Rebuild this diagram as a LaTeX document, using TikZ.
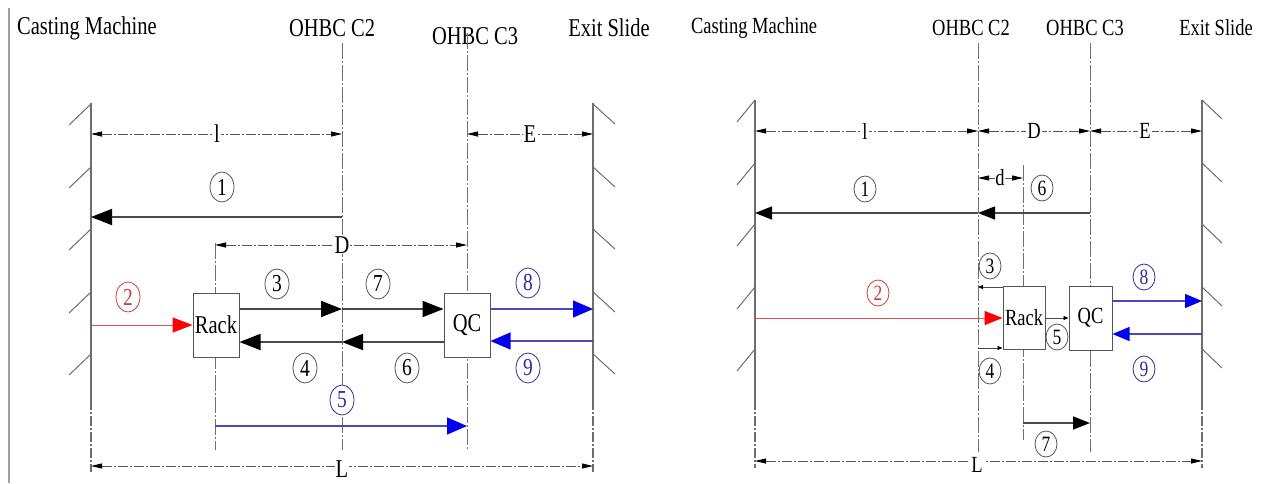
\documentclass[tikz,border=0pt]{standalone}
\usepackage{fontspec}
\setmainfont{Liberation Serif}
\usepackage{graphicx}
\usetikzlibrary{arrows.meta,shapes.geometric}
\definecolor{wallc}{HTML}{6E6E6E}
\definecolor{linec}{HTML}{707070}
\definecolor{dimc}{HTML}{555555}
\definecolor{arrc}{HTML}{4A4A4A}
\definecolor{redl}{HTML}{E05050}
\definecolor{redh}{HTML}{FF0000}
\definecolor{redt}{HTML}{C84040}
\definecolor{bluel}{HTML}{4848C0}
\definecolor{blueh}{HTML}{0000F0}
\definecolor{bluet}{HTML}{2E2E9A}
\definecolor{borderc}{HTML}{A0A0A0}
\newcommand{\tl}[1]{\scalebox{1}[1.25]{#1}}
\newcommand{\fsz}[1]{\fontsize{#1}{#1}\selectfont}
\tikzset{
  wall/.style={draw=wallc, line width=1.3pt},
  wallend/.style={draw=wallc, line width=1.1pt, dash pattern=on 10pt off 2pt on 2pt off 2pt},
  hatch/.style={draw=wallc, line width=1pt},
  cline/.style={draw=linec, line width=0.8pt, dash pattern=on 16pt off 2pt on 2pt off 2pt},
  dim/.style={draw=dimc, line width=0.8pt, dash pattern=on 10pt off 2pt on 2pt off 2pt,
    {Triangle[length=11pt,width=5pt,color=black]}-{Triangle[length=11pt,width=5pt,color=black]}},
  dimA/.style={fill=white, inner sep=1pt, font=\fsz{20.5}},
  dimB/.style={fill=white, inner sep=1pt, font=\fsz{18.5}},
  ttlA/.style={inner sep=0pt, font=\fsz{20.5}},
  ttlB/.style={inner sep=0pt, font=\fsz{18.5}},
  bigA/.style={draw=arrc, line width=1.8pt, -{Triangle[length=21pt,width=16pt,color=black]}},
  bigB/.style={draw=arrc, line width=1.5pt, -{Triangle[length=17pt,width=13pt,color=black]}},
  redA/.style={draw=redl, line width=1pt, -{Triangle[length=20pt,width=15pt,color=redh]}},
  blueA/.style={draw=bluel, line width=1.2pt, -{Triangle[length=20pt,width=17pt,color=blueh]}},
  blueB/.style={draw=bluel, line width=1.1pt, -{Triangle[length=17pt,width=14pt,color=blueh]}},
  smallB/.style={draw=arrc, line width=0.8pt, -{Triangle[length=5pt,width=4pt,color=black]}},
  boxA/.style={draw=dimc, line width=1pt, fill=white, minimum width=46pt, minimum height=64pt, inner sep=0pt, font=\fsz{20.5}},
  boxB/.style={draw=dimc, line width=1pt, fill=white, minimum width=42pt, minimum height=63pt, inner sep=0pt, font=\fsz{18.5}},
  numA/.style={ellipse, draw=dimc, line width=0.8pt, inner sep=0pt, minimum width=24pt, minimum height=30pt, font=\fsz{19.5}},
  numB/.style={ellipse, draw=dimc, line width=0.8pt, inner sep=0pt, minimum width=22pt, minimum height=26pt, font=\fsz{17.5}},
}
\begin{document}
\begin{tikzpicture}[x=1pt,y=-1pt]
\useasboundingbox (0,0) rectangle (1265,483);
\fill[white] (0,0) rectangle (1265,483);
% page border on the left
\draw[draw=borderc, line width=2.5pt] (9,8) -- (9,483);

%%%%%%%%%%%%%%%% LEFT PANEL %%%%%%%%%%%%%%%%
\node[ttlA, anchor=west] (tA1) at (17,28) {\tl{Casting Machine}};
\node[ttlA] (tA2) at (332,28) {\tl{OHBC C2}};
\node[ttlA] (tA3) at (475,36) {\tl{OHBC C3}};
\node[ttlA] (tA4) at (609,28) {\tl{Exit Slide}};

% walls
\coordinate (wLAt) at (91,103); \coordinate (wLAm) at (91,400); \coordinate (wLAb) at (91,472);
\coordinate (wRAt) at (593,103); \coordinate (wRAm) at (593,400); \coordinate (wRAb) at (593,472);
\draw[wall] (wLAt) -- (wLAm); \draw[wallend] (wLAm) -- (wLAb);
\draw[wall] (wRAt) -- (wRAm); \draw[wallend] (wRAm) -- (wRAb);
\foreach \y in {104,167,229,292,354} {
  \draw[hatch] (91,\y) -- ++(-22,21);
  \draw[hatch] (593,\y) -- ++(22,20);
}
% centre lines
\coordinate (c2At) at (342,43); \coordinate (c2Ab) at (342,450);
\coordinate (c3At) at (467,33); \coordinate (c3Ab) at (467,450);
\coordinate (rkAt) at (215,243); \coordinate (rkAb) at (215,450);
\draw[cline] (c2At) -- (c2Ab);
\draw[cline] (c3At) -- (c3Ab);
\draw[cline] (rkAt) -- (rkAb);

% dimensions
\coordinate (dlA1) at (91,134); \coordinate (dlA2) at (342,134);
\coordinate (deA1) at (467,134); \coordinate (deA2) at (593,134);
\coordinate (ddA1) at (215,245); \coordinate (ddA2) at (467,245);
\coordinate (dLA1) at (91,466); \coordinate (dLA2) at (593,466);
\draw[dim] (dlA1) -- (dlA2); \node[dimA] (lA) at (217,134) {\tl{l}};
\draw[dim] (deA1) -- (deA2); \node[dimA] (EA) at (530,134) {\tl{E}};
\draw[dim] (ddA1) -- (ddA2); \node[dimA] (DA) at (342,245) {\tl{D}};
\draw[dim] (dLA1) -- (dLA2); \node[dimA] (LA) at (342,469) {\tl{L}};

% boxes
\node[boxA] (rackA) at (216,325) {\tl{Rack}};
\node[boxA] (qcA) at (467,325) {\tl{QC}};

% arrows
\coordinate (a1s) at (342,217); \coordinate (a1e) at (91,217);
\draw[bigA] (a1s) -- (a1e);
\coordinate (a2s) at (91,325);
\draw[redA] (a2s) -- (rackA.west);
\coordinate (a3) at (342,309); \coordinate (a4) at (342,342);
\draw[bigA] (rackA.east |- a3) -- (a3);
\draw[bigA] (a3) -- (qcA.west |- a3);
\draw[bigA] (a4) -- (rackA.east |- a4);
\draw[bigA] (qcA.west |- a4) -- (a4);
\coordinate (a8) at (593,309); \coordinate (a9) at (593,341);
\draw[blueA] (qcA.east |- a8) -- (a8);
\draw[blueA] (a9) -- (qcA.east |- a9);
\coordinate (a5s) at (215,426); \coordinate (a5e) at (467,426);
\draw[blueA] (a5s) -- (a5e);

% numbers
\node[numA] (nA1) at (222,187) {\tl{1}};
\node[numA, draw=redt, text=redt] (nA2) at (128,297) {\tl{2}};
\node[numA] (nA3) at (277,284) {\tl{3}};
\node[numA] (nA4) at (305,368) {\tl{4}};
\node[numA, draw=bluet, text=bluet, fill=white] (nA5) at (342,400) {\tl{5}};
\node[numA] (nA6) at (407,368) {\tl{6}};
\node[numA] (nA7) at (378,284) {\tl{7}};
\node[numA, draw=bluet, text=bluet] (nA8) at (528,283) {\tl{8}};
\node[numA, draw=bluet, text=bluet] (nA9) at (528,368) {\tl{9}};

%%%%%%%%%%%%%%%% RIGHT PANEL %%%%%%%%%%%%%%%%
\node[ttlB] (tB1) at (754,28) {\tl{Casting Machine}};
\node[ttlB] (tB2) at (971,28) {\tl{OHBC C2}};
\node[ttlB] (tB3) at (1085,28) {\tl{OHBC C3}};
\node[ttlB] (tB4) at (1216,28) {\tl{Exit Slide}};

% walls
\coordinate (wLBt) at (755,100); \coordinate (wLBm) at (755,400); \coordinate (wLBb) at (755,468);
\coordinate (wRBt) at (1202,100); \coordinate (wRBm) at (1202,400); \coordinate (wRBb) at (1202,468);
\draw[wall] (wLBt) -- (wLBm); \draw[wallend] (wLBm) -- (wLBb);
\draw[wall] (wRBt) -- (wRBm); \draw[wallend] (wRBm) -- (wRBb);
\foreach \y in {100,163,224,287,349} {
  \draw[hatch] (755,\y) -- ++(-18,22);
  \draw[hatch] (1202,\y) -- ++(20,19);
}
% centre lines
\coordinate (c2Bt) at (978,43); \coordinate (c2Bb) at (978,452);
\coordinate (c3Bt) at (1090,43); \coordinate (c3Bb) at (1090,452);
\coordinate (dBt) at (1023,165); \coordinate (dBb) at (1023,440);
\draw[cline] (c2Bt) -- (c2Bb);
\draw[cline] (c3Bt) -- (c3Bb);
\draw[cline] (dBt) -- (dBb);

% dimensions
\coordinate (dlB1) at (755,131); \coordinate (dlB2) at (978,131);
\coordinate (dDB2) at (1090,131); \coordinate (dEB2) at (1202,131);
\coordinate (ddB1) at (978,178); \coordinate (ddB2) at (1023,178);
\coordinate (dLB1) at (755,461); \coordinate (dLB2) at (1202,461);
\draw[dim] (dlB1) -- (dlB2); \node[dimB] (lB) at (865,131) {\tl{l}};
\draw[dim] (dlB2) -- (dDB2); \node[dimB] (DB) at (1034,131) {\tl{D}};
\draw[dim] (dDB2) -- (dEB2); \node[dimB] (EB) at (1145,131) {\tl{E}};
\draw[dim] (ddB1) -- (ddB2); \node[dimB, inner sep=0.5pt] (dB) at (1000,178) {\tl{d}};
\draw[dim] (dLB1) -- (dLB2); \node[dimB] (LB) at (977,465) {\tl{L}};

% boxes
\node[boxB] (rackB) at (1024,317.5) {\tl{Rack}};
\node[boxB, minimum width=43pt, minimum height=64pt] (qcB) at (1090.5,318) {\tl{QC}};

% arrows
\coordinate (b1s) at (978,213); \coordinate (b1e) at (755,213); \coordinate (b6s) at (1090,213);
\draw[bigB] (b1s) -- (b1e);
\draw[bigB] (b6s) -- (b1s);
\coordinate (b2s) at (755,318);
\draw[redA, -{Triangle[length=18pt,width=14pt,color=redh]}] (b2s) -- (rackB.west |- b2s);
\coordinate (b3) at (978,287); \coordinate (b4) at (978,348);
\draw[smallB] (rackB.west |- b3) -- (b3);
\draw[smallB] (b4) -- (rackB.west |- b4);
\coordinate (b5) at (1045,318);
\draw[smallB] (rackB.east |- b5) -- (qcB.west |- b5);
\coordinate (b8) at (1202,301); \coordinate (b9) at (1202,334);
\draw[blueB] (qcB.east |- b8) -- (b8);
\draw[blueB] (b9) -- (qcB.east |- b9);
\coordinate (b7s) at (1023,423); \coordinate (b7e) at (1090,423);
\draw[bigB] (b7s) -- (b7e);

% numbers
\node[numB] (nB1) at (865,189) {\tl{1}};
\node[numB, draw=redt, text=redt] (nB2) at (878,293) {\tl{2}};
\node[numB] (nB3) at (990,266) {\tl{3}};
\node[numB] (nB4) at (990,371) {\tl{4}};
\node[numB, fill=white] (nB5) at (1057,337) {\tl{5}};
\node[numB] (nB6) at (1042,188) {\tl{6}};
\node[numB, fill=white] (nB7) at (1046,444) {\tl{7}};
\node[numB, draw=bluet, text=bluet] (nB8) at (1144,277) {\tl{8}};
\node[numB, draw=bluet, text=bluet] (nB9) at (1144,369) {\tl{9}};
\end{tikzpicture}
\end{document}
